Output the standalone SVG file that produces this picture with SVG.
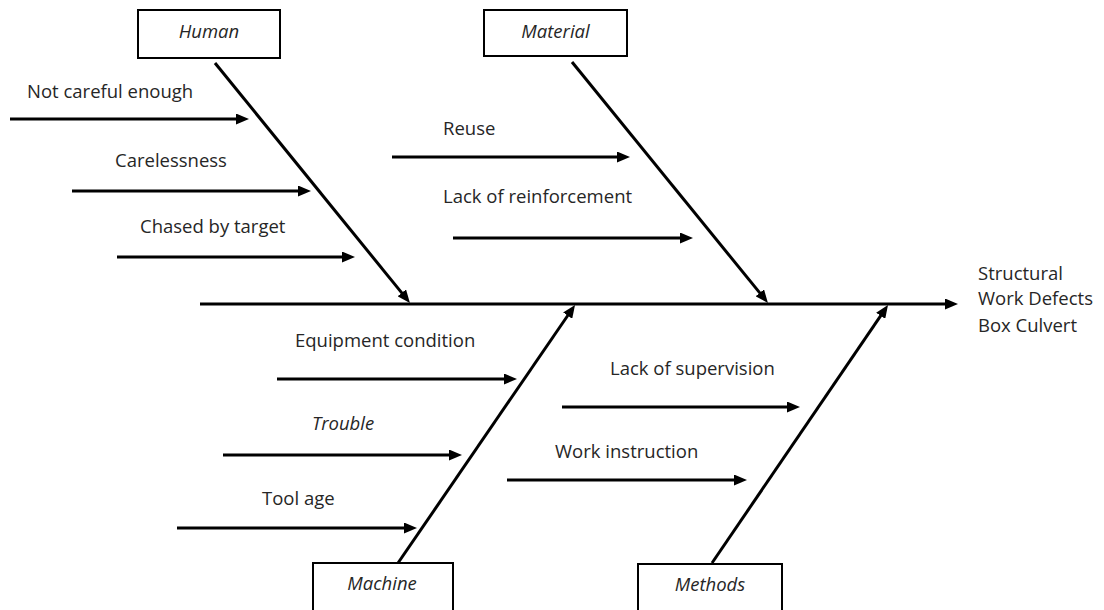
<svg xmlns="http://www.w3.org/2000/svg" width="1104" height="610" viewBox="0 0 1104 610">
<style>
.t{font-family:"Open Sans","Noto Sans",sans-serif;font-size:18.5px;fill:#262626}
.i{font-style:italic;text-anchor:middle}
.box{fill:#fff;stroke:#000;stroke-width:2}
.a{stroke:#000;stroke-width:3.2;fill:none;marker-end:url(#ah)}
.d{stroke:#000;stroke-width:3;fill:none;marker-end:url(#ah)}
</style>
<defs>
<marker id="ah" markerUnits="userSpaceOnUse" markerWidth="13" markerHeight="11" refX="2" refY="5.5" orient="auto">
<path d="M0,0 L13,5.5 L0,11 z" fill="#000"/>
</marker>
</defs>
<rect width="1104" height="610" fill="#fff"/>
<g id="connectors">
<line class="a" x1="200" y1="304" x2="947" y2="304"/>
<line class="d" x1="215" y1="63" x2="403" y2="294.4"/>
<line class="d" x1="572" y1="62" x2="761" y2="294.4"/>
<line class="d" x1="398" y1="563" x2="568.8" y2="314"/>
<line class="d" x1="712" y1="563" x2="881.8" y2="314.1"/>
<line class="a" x1="10" y1="119" x2="238" y2="119"/>
<line class="a" x1="72" y1="191" x2="300" y2="191"/>
<line class="a" x1="117" y1="257" x2="344" y2="257"/>
<line class="a" x1="392" y1="157" x2="619" y2="157"/>
<line class="a" x1="453" y1="238" x2="682" y2="238"/>
<line class="a" x1="277" y1="379" x2="506" y2="379"/>
<line class="a" x1="223" y1="455" x2="451" y2="455"/>
<line class="a" x1="177" y1="528" x2="406" y2="528"/>
<line class="a" x1="562" y1="407" x2="789" y2="407"/>
<line class="a" x1="507" y1="480" x2="736" y2="480"/>
</g>
<g id="human"><rect class="box" x="138" y="10" width="142" height="48"/><text class="t i" x="209" y="38">Human</text></g>
<g id="material"><rect class="box" x="484" y="10" width="143" height="46"/><text class="t i" x="555.5" y="38">Material</text></g>
<g id="machine"><rect class="box" x="313" y="563" width="140" height="60"/><text class="t i" x="382" y="590">Machine</text></g>
<g id="methods"><rect class="box" x="638" y="564" width="144" height="60"/><text class="t i" x="710" y="591">Methods</text></g>
<g id="causes">
<text class="t" x="27" y="98">Not careful enough</text>
<text class="t" x="115" y="167">Carelessness</text>
<text class="t" x="140" y="233">Chased by target</text>
<text class="t" x="443" y="135">Reuse</text>
<text class="t" x="443" y="203">Lack of reinforcement</text>
<text class="t" x="295" y="347">Equipment condition</text>
<text class="t" x="312" y="430" font-style="italic">Trouble</text>
<text class="t" x="262" y="505">Tool age</text>
<text class="t" x="610" y="375">Lack of supervision</text>
<text class="t" x="555" y="458">Work instruction</text>
</g>
<g id="effect">
<text class="t" x="978" y="280">Structural</text>
<text class="t" x="978" y="305">Work Defects</text>
<text class="t" x="978" y="332">Box Culvert</text>
</g>
</svg>
